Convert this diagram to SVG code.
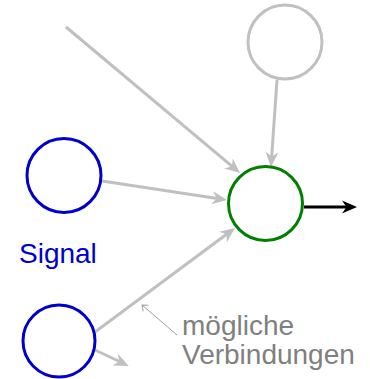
<svg xmlns="http://www.w3.org/2000/svg" width="370" height="379" viewBox="0 0 370 379">
<style>
.node{fill:#fff;stroke-width:3}
.blue{stroke:#0000cc}
.green{stroke:#008000}
.gray{stroke:#c0c0c0}
.conn{stroke:#c0c0c0;stroke-width:3;fill:none}
.txt{font-family:"Liberation Sans",Arial,sans-serif;font-size:28px}
</style>
<defs>
<marker id="ag" markerWidth="20" markerHeight="20" refX="8" refY="8" orient="auto" markerUnits="userSpaceOnUse">
<path d="M16,8 L1,1.5 L5.5,8 L1,14.5 Z" fill="#c0c0c0"/>
</marker>
<marker id="ab" markerWidth="20" markerHeight="20" refX="8" refY="8" orient="auto" markerUnits="userSpaceOnUse">
<path d="M16,8 L1,1.5 L5.5,8 L1,14.5 Z" fill="#000"/>
</marker>
<marker id="at" markerWidth="12" markerHeight="12" refX="6" refY="6" orient="auto" markerUnits="userSpaceOnUse">
<path d="M1,2 L6,6 L1,10" fill="none" stroke="#a0a0a0" stroke-width="1"/>
</marker>
</defs>
<g id="connectors">
<line class="conn" x1="66" y1="27" x2="233.9" y2="167.9" marker-end="url(#ag)"/>
<line class="conn" x1="277" y1="80" x2="271.5" y2="159" marker-end="url(#ag)"/>
<line class="conn" x1="102" y1="181" x2="219.1" y2="198.8" marker-end="url(#ag)"/>
<line class="conn" x1="95" y1="332" x2="228.6" y2="232.8" marker-end="url(#ag)"/>
<line class="conn" x1="95" y1="350" x2="121.5" y2="362.5" marker-end="url(#ag)"/>
<line x1="304" y1="207" x2="349" y2="207" stroke="#000" stroke-width="3" marker-end="url(#ab)"/>
<line x1="177" y1="335" x2="142" y2="305" stroke="#a0a0a0" stroke-width="1" marker-end="url(#at)"/>
</g>
<g id="node-top"><circle class="node gray" cx="285" cy="42" r="37"/></g>
<g id="node-out"><circle class="node green" cx="265.5" cy="203.5" r="37"/></g>
<g id="node-signal1"><circle class="node blue" cx="64" cy="175.5" r="37"/></g>
<g id="node-signal2"><circle class="node blue" cx="59" cy="341" r="36"/></g>
<text class="txt" x="19" y="263" fill="#0000cc">Signal</text>
<text class="txt" x="182" y="335" fill="#808080">mögliche</text>
<text class="txt" x="182" y="364" fill="#808080">Verbindungen</text>
</svg>
